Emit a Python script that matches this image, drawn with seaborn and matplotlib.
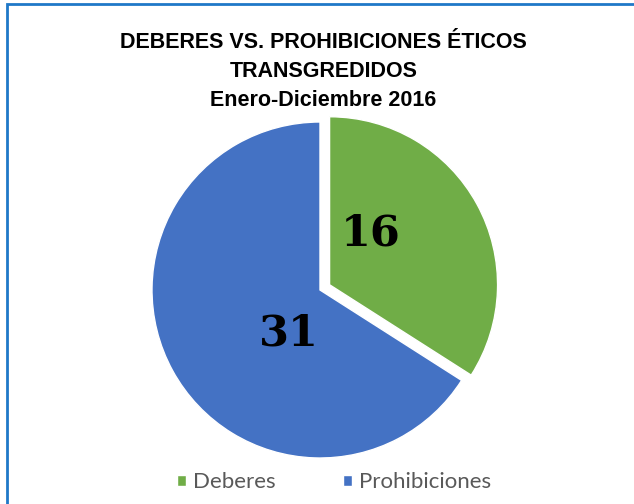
import matplotlib
matplotlib.use('Agg')
import numpy as np
import matplotlib.pyplot as plt
import seaborn as sns
from matplotlib.patches import Rectangle

# Data
categories = ['Deberes', 'Prohibiciones']
values = [16, 31]
colors = ['#70AD47', '#4472C4']
title = 'DEBERES VS. PROHIBICIONES ÉTICOS\nTRANSGREDIDOS\nEnero-Diciembre 2016'

sns.set_theme(style='white')
plt.rcParams['font.family'] = ['Liberation Sans', 'DejaVu Sans']

fig = plt.figure(figsize=(6.34, 5.04), dpi=100)
ax = fig.add_axes([110 / 634, 4 / 504, 420 / 634, 420 / 504])

wedges, texts = ax.pie(values, colors=colors, startangle=90, counterclock=False,
                       explode=[0.065, 0], labels=[str(v) for v in values],
                       textprops=dict(fontsize=31, fontweight='bold', color='black',
                                      family=['DejaVu Serif'], ha='center', va='center'))

# place the value labels inside their wedges the way the original does
for w, t, frac, rad in zip(wedges, texts, [0.68, 0.61], [0.39, 0.32]):
    ang = np.deg2rad(w.theta1 + frac * (w.theta2 - w.theta1))
    cx, cy = w.center
    t.set_position((cx + rad * np.cos(ang), cy + rad * np.sin(ang)))

fig.text(0.51, 0.936, title, ha='center', va='top', fontsize=15.5, fontweight='bold',
         color='black', linespacing=1.5)

leg = fig.legend(wedges, categories, loc='lower center', bbox_to_anchor=(0.527, -0.016),
                 ncol=2, frameon=False, handlelength=0.4, handleheight=0.4,
                 columnspacing=3.0, handletextpad=0.35,
                 prop=dict(family='Lato', size=16))
for t in leg.get_texts():
    t.set_color('#595959')

# blue frame around the chart area
fig.add_artist(Rectangle((6.5 / 634, -0.1), 1.2, 1.1 - 4.5 / 504, transform=fig.transFigure,
                         fill=False, edgecolor='#1F78C8', linewidth=2, clip_on=False))

fig.savefig('out.png', dpi=100)
